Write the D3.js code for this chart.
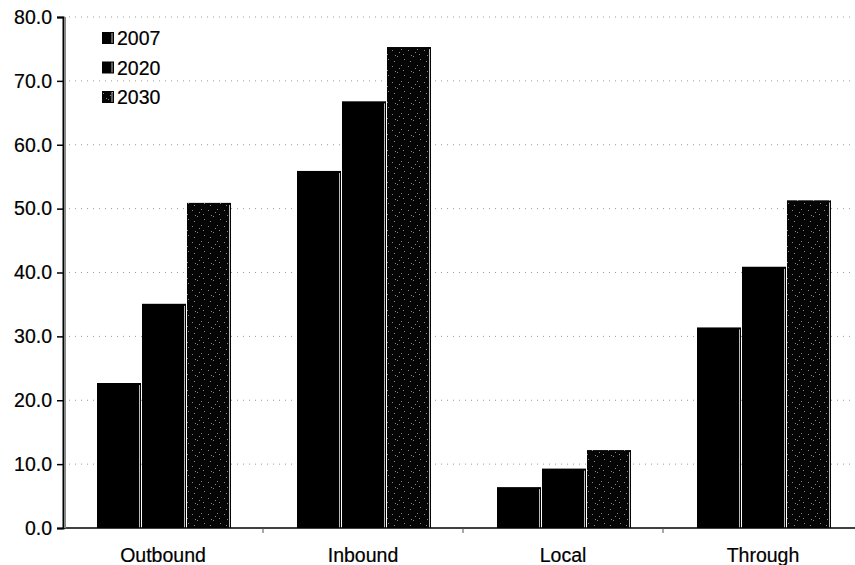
<!DOCTYPE html>
<html>
<head>
<meta charset="utf-8">
<script src="https://cdn.jsdelivr.net/npm/d3@7"></script>
<style>
  html, body { margin: 0; padding: 0; background: #fff; }
  svg { display: block; font-family: "Liberation Sans", Arial, sans-serif; }
  text { stroke: #000; stroke-width: 0.2px; }
</style>
</head>
<body>
<svg id="chart" width="855" height="565"></svg>
<script>
// Trip volumes by direction, per forecast year
const categories = ["Outbound", "Inbound", "Local", "Through"];
const years = ["2007", "2020", "2030"];
const values2007 = [22.7, 55.9, 6.4, 31.4];
const values2020 = [35.1, 66.8, 9.3, 40.9];
const values2030 = [50.9, 75.3, 12.2, 51.3];
const yTicks = [0, 10, 20, 30, 40, 50, 60, 70, 80];

const seriesValues = [values2007, values2020, values2030];

const svg = d3.select("#chart");
const plotLeft = 63, plotRight = 863, plotTop = 17, plotBottom = 528;
const fontSize = 19.5;

const y = d3.scaleLinear().domain([0, 80]).range([plotBottom, plotTop]);
const x0 = d3.scaleBand().domain(categories).range([plotLeft, plotRight]).paddingInner(0).paddingOuter(0);
const groupStart = 34, groupWidth = 135;
const x1 = d3.scaleBand().domain(years).range([groupStart, groupStart + groupWidth]).padding(0);

// Speckled fill used for the 2030 series
const defs = svg.append("defs");
const pat = defs.append("pattern")
  .attr("id", "speckle").attr("patternUnits", "userSpaceOnUse")
  .attr("width", 16).attr("height", 16);
pat.append("rect").attr("width", 16).attr("height", 16).attr("fill", "#050505");
const dots = [[1,2],[6,8],[10,1],[13,11],[3,13],[8,4],[12,6],[4,7]];
pat.selectAll("rect.d").data(dots).join("rect").attr("class", "d")
  .attr("x", d => d[0]).attr("y", d => d[1]).attr("width", 1).attr("height", 1)
  .attr("fill", "#888");

const fills = { "2007": "#000", "2020": "#000", "2030": "url(#speckle)" };

// Dotted horizontal gridlines
svg.append("g").selectAll("line").data(yTicks.filter(t => t > 0)).join("line")
  .attr("x1", plotLeft).attr("x2", 855)
  .attr("y1", d => y(d)).attr("y2", d => y(d))
  .attr("stroke", "#999").attr("stroke-width", 1)
  .attr("stroke-dasharray", "1,5");

// Bars
const rows = categories.map((c, i) => ({ cat: c, vals: years.map((yr, k) => ({ year: yr, v: seriesValues[k][i] })) }));
const groups = svg.append("g").selectAll("g").data(rows).join("g")
  .attr("transform", d => `translate(${x0(d.cat)},0)`);
groups.selectAll("rect").data(d => d.vals).join("rect")
  .attr("x", d => x1(d.year))
  .attr("y", d => y(d.v))
  .attr("width", x1.bandwidth() - 1)
  .attr("height", d => y(0) - y(d.v))
  .attr("fill", d => fills[d.year]);
// Light edge at the right of each bar
groups.selectAll("line.edge").data(d => d.vals).join("line").attr("class", "edge")
  .attr("x1", d => x1(d.year) + x1.bandwidth() - 2.5)
  .attr("x2", d => x1(d.year) + x1.bandwidth() - 2.5)
  .attr("y1", d => y(d.v) + 2).attr("y2", y(0))
  .attr("stroke", "#bbb").attr("stroke-width", 1);

// X axis baseline and category ticks
svg.append("line").attr("x1", plotLeft).attr("x2", 855).attr("y1", y(0)).attr("y2", y(0))
  .attr("stroke", "#000").attr("stroke-width", 1.5);
svg.append("g").selectAll("line").data(categories.slice(1)).join("line")
  .attr("x1", d => x0(d)).attr("x2", d => x0(d))
  .attr("y1", y(0)).attr("y2", y(0) + 5)
  .attr("stroke", "#555").attr("stroke-width", 1);
svg.append("g").selectAll("text").data(categories).join("text")
  .attr("x", d => x0(d) + x0.bandwidth() / 2)
  .attr("y", 562)
  .attr("text-anchor", "middle")
  .attr("font-size", fontSize)
  .attr("fill", "#000")
  .text(d => d);

// Y axis
const yAxis = d3.axisLeft(y).tickValues(yTicks).tickFormat(d3.format(".1f")).tickSize(6).tickPadding(5);
const ya = svg.append("g").attr("transform", `translate(${plotLeft},0)`).call(yAxis);
ya.select(".domain").attr("stroke", "#000").attr("stroke-width", 2);
ya.selectAll(".tick line").attr("stroke", "#000").attr("stroke-width", 1.5);
ya.selectAll(".tick text").attr("font-size", fontSize).attr("fill", "#000")
  .attr("font-family", "\"Liberation Sans\", Arial, sans-serif");
svg.append("rect").attr("x", plotLeft + 1).attr("y", plotTop).attr("width", 2).attr("height", plotBottom - plotTop)
  .attr("fill", "#888");

// Legend
const legend = svg.append("g").selectAll("g").data(years).join("g")
  .attr("transform", (d, i) => `translate(102,${32 + i * 29.5})`);
legend.append("rect").attr("width", 12).attr("height", 12).attr("fill", d => fills[d]);
legend.append("line").attr("x1", 10).attr("x2", 10).attr("y1", 1).attr("y2", 11)
  .attr("stroke", "#bbb").attr("stroke-width", 1);
legend.append("text").attr("x", 15).attr("y", 13).attr("font-size", fontSize).attr("fill", "#000").text(d => d);
</script>
</body>
</html>
